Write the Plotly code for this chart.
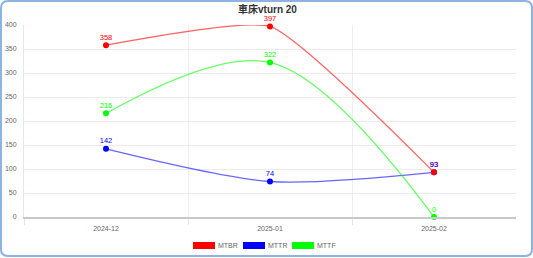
import plotly.graph_objects as go

categories = ["2024-12", "2025-01", "2025-02"]
mtbr = [358, 397, 93]
mttr = [142, 74, 93]
mttf = [216, 322, 0]
series_names = ["MTBR", "MTTR", "MTTF"]
series_colors = ["#ff0000", "#0000ff", "#00ff00"]
line_colors = ["rgba(255,0,0,0.6)", "rgba(0,0,255,0.6)", "rgba(0,255,0,0.6)"]
smoothings = [0.45, 0.8, 1.0]
title_text = "車床vturn 20"

W, H = 533, 258
L, R, T, B = 24, 17, 25, 41
pw, ph = W - L - R, H - T - B

def px(x):
    return (x - L) / pw

def py(y):
    return (H - B - y) / ph

xs = list(range(len(categories)))
data = {"MTBR": mtbr, "MTTR": mttr, "MTTF": mttf}
colors = dict(zip(series_names, series_colors))
lcolors = dict(zip(series_names, line_colors))
smooth = dict(zip(series_names, smoothings))
FONT = "Liberation Sans, Arial"

fig = go.Figure()
# lines + markers (red last so its marker is on top)
for name in ["MTTR", "MTTF", "MTBR"]:
    fig.add_trace(go.Scatter(
        x=xs, y=data[name], mode="lines+markers", name=name,
        line=dict(color=lcolors[name], width=1.3, shape="spline", smoothing=smooth[name]),
        marker=dict(color=colors[name], size=6),
        showlegend=False, hoverinfo="skip", cliponaxis=False))
# labels (blue last so "93" is blue)
for name in ["MTBR", "MTTF", "MTTR"]:
    fig.add_trace(go.Scatter(
        x=xs, y=data[name], mode="markers+text", text=[str(v) for v in data[name]],
        textposition="top center",
        marker=dict(size=4, opacity=0),
        textfont=dict(color=colors[name], size=7.5, family=FONT),
        showlegend=False, hoverinfo="skip", cliponaxis=False))

shapes = []
annotations = []
# legend
leg_x = [193, 243, 292]
for i, name in enumerate(series_names):
    x0 = leg_x[i]
    shapes.append(dict(type="rect", xref="paper", yref="paper",
                       x0=px(x0), x1=px(x0 + 22), y0=py(249), y1=py(242),
                       fillcolor=colors[name], line=dict(width=0)))
    annotations.append(dict(xref="paper", yref="paper", x=px(x0 + 24), y=py(245.5),
                            text=name, showarrow=False, xanchor="left", yanchor="middle",
                            borderpad=0,
                            font=dict(size=7, color="#666", family=FONT)))
# title
annotations.append(dict(xref="paper", yref="paper", x=px(267), y=py(9.5),
                        text="<b>" + title_text + "</b>", showarrow=False,
                        xanchor="center", yanchor="middle", borderpad=0,
                        font=dict(size=10, color="#333", family="Liberation Sans, Noto Sans CJK TC")))
# outer rounded border
x0, x1, y0, y1, r = 1, 532, 1, 256, 7
def P(x, y):
    return f"{px(x):.5f},{py(y):.5f}"
path = (f"M {P(x0 + r, y0)} L {P(x1 - r, y0)} Q {P(x1, y0)} {P(x1, y0 + r)} "
        f"L {P(x1, y1 - r)} Q {P(x1, y1)} {P(x1 - r, y1)} "
        f"L {P(x0 + r, y1)} Q {P(x0, y1)} {P(x0, y1 - r)} "
        f"L {P(x0, y0 + r)} Q {P(x0, y0)} {P(x0 + r, y0)} Z")
shapes.append(dict(type="path", xref="paper", yref="paper", path=path,
                   line=dict(color="#8fb3e0", width=2), layer="above"))

fig.update_layout(
    width=W, height=H,
    margin=dict(l=L, r=R, t=T, b=B),
    paper_bgcolor="white", plot_bgcolor="white",
    shapes=shapes, annotations=annotations,
    showlegend=False,
    xaxis=dict(range=[-0.5, 2.5], tickmode="array", tickvals=xs, ticktext=categories,
               showgrid=False, zeroline=False, showline=True, linecolor="#c8c8c8", linewidth=1.5,
               ticks="", tickfont=dict(size=7, color="#666", family=FONT),
               ticklabelstandoff=4, automargin=False,
               minor=dict(tickmode="array", tickvals=[-0.5, 0.5, 1.5], showgrid=True,
                          gridcolor="#eeeeee", gridwidth=1, ticks="outside", ticklen=6,
                          tickcolor="#e6e6e6"),
               fixedrange=True),
    yaxis=dict(range=[0, 400], tickmode="array", tickvals=list(range(0, 401, 50)),
               showgrid=True, gridcolor="#ebebeb", gridwidth=1, zeroline=False,
               showline=True, linecolor="#e6e6e6", linewidth=1, ticks="",
               tickfont=dict(size=7, color="#666", family=FONT),
               ticklabelstandoff=5, automargin=False, fixedrange=True),
)

fig.write_html("out.html", config={"displayModeBar": False})
